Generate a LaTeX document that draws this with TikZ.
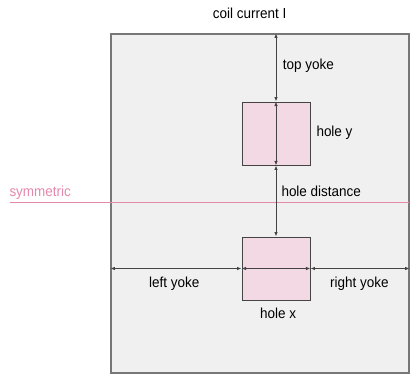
\documentclass[tikz,border=0pt]{standalone}
\usepackage{fontspec}
\setmainfont[FakeStretch=0.93]{Liberation Sans}
\usetikzlibrary{arrows.meta}
\definecolor{yokefill}{HTML}{F0F0F0}
\definecolor{yokeedge}{HTML}{777777}
\definecolor{holefill}{HTML}{F2D9E3}
\definecolor{dimgray}{HTML}{444444}
\definecolor{sympink}{HTML}{E389AC}
\tikzset{
  yoke/.style={draw=yokeedge, fill=yokefill, line width=1.3pt, minimum width=298pt, minimum height=339pt, inner sep=0pt},
  hole/.style={draw=dimgray, fill=holefill, line width=0.9pt, minimum width=68pt, minimum height=63pt, inner sep=0pt},
  dim/.style={draw=dimgray, line width=0.9pt, {Latex[length=4.5pt,width=3.5pt]}-{Latex[length=4.5pt,width=3.5pt]}},
  lbl/.style={font=\fontsize{14.5}{16}\selectfont, text=black, inner sep=0pt, anchor=base west},
}
\begin{document}
\begin{tikzpicture}[x=1pt,y=-1pt]
\useasboundingbox (0,0) rectangle (410,374);
\node[yoke] (outer) at (260,203.5) {};
\node[hole] (hy) at (276,133.5) {};
\node[hole] (hx) at (276,268.5) {};
% symmetric line
\coordinate (s1) at (10,202.5);
\coordinate (s2) at (409,202.5);
\draw[sympink, line width=1.1pt] (s1) -- (s2);
\node[lbl, text=sympink] (sym) at (9.3,196.5) {symmetric};
% vertical dims
\draw[dim] (outer.north -| hy.center) -- (hy.north);
\draw[dim] (hy.north) -- (hy.south);
\draw[dim] (hy.south) -- (hx.north);
% horizontal dims
\draw[dim] (outer.west |- hx.center) -- (hx.west);
\draw[dim] (hx.west) -- (hx.east);
\draw[dim] (hx.east) -- (outer.east |- hx.center);
% labels
\node[lbl] (coil) at (212.7,18.7) {coil current I};
\node[lbl] (ty) at (282.7,69.3) {top yoke};
\node[lbl] (hyl) at (316.3,136.7) {hole y};
\node[lbl] (hd) at (281.3,196.3) {hole distance};
\node[lbl] (ly) at (149,287.3) {left yoke};
\node[lbl] (ry) at (330,287.3) {right yoke};
\node[lbl] (hxl) at (260,318.3) {hole x};
\end{tikzpicture}
\end{document}
